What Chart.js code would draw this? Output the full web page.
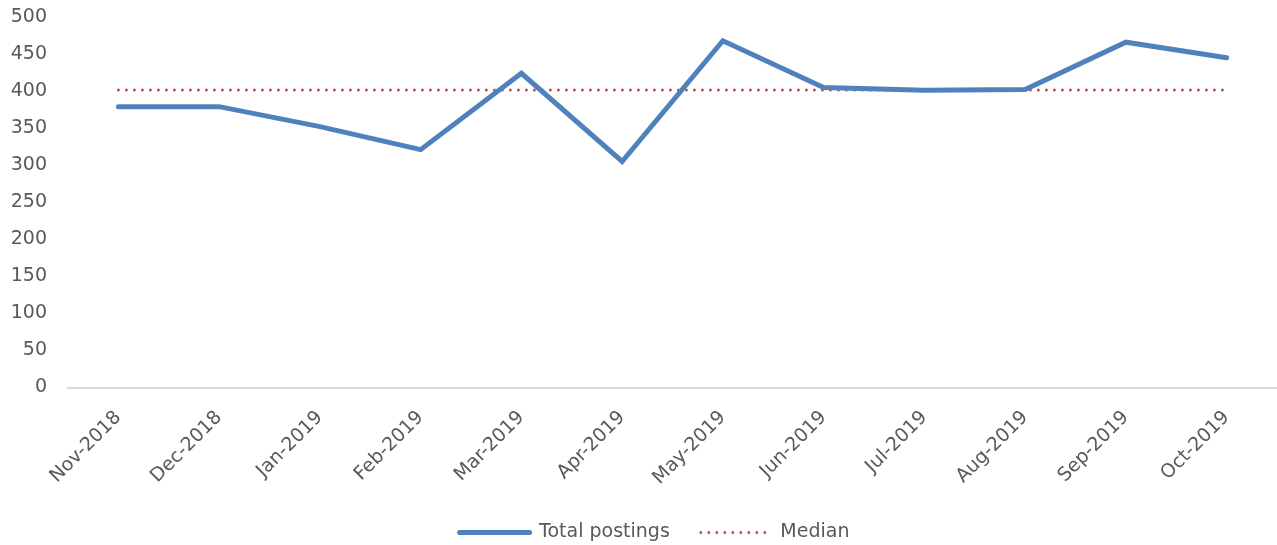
<!DOCTYPE html>
<html>
<head>
<meta charset="utf-8">
<script src="https://cdn.jsdelivr.net/npm/chart.js@4"></script>
<style>
html,body{margin:0;padding:0;background:#fff;}
#wrap{width:1277px;height:545px;}
</style>
</head>
<body>
<div id="wrap"><canvas id="c" width="1277" height="545"></canvas></div>
<script>
const categories = ["Nov-2018","Dec-2018","Jan-2019","Feb-2019","Mar-2019","Apr-2019","May-2019","Jun-2019","Jul-2019","Aug-2019","Sep-2019","Oct-2019"];
const totalPostings = [379,379,352,321,424,305,468,405,401,402,466,445];
const medianValue = 401.5;
const medianSeries = categories.map(() => medianValue);
const yTicks = [0,50,100,150,200,250,300,350,400,450,500];

const FONT = "'DejaVu Sans', sans-serif";
const TXT = '#595959';
const noClip = () => undefined;

new Chart(document.getElementById('c'), {
  type: 'line',
  data: {
    labels: categories,
    datasets: [
      {
        label: 'Total postings',
        data: totalPostings,
        borderColor: '#4f81bd',
        backgroundColor: '#4f81bd',
        borderWidth: 5,
        borderCapStyle: 'round',
        borderJoinStyle: 'miter',
        pointRadius: 0,
        tension: 0,
        fill: false,
        order: 1
      },
      {
        label: 'Median',
        data: medianSeries,
        borderColor: '#c0504d',
        backgroundColor: '#c0504d',
        borderWidth: 3,
        borderDash: [0, 8],
        borderCapStyle: 'round',
        pointRadius: 0,
        fill: false,
        order: 2
      }
    ]
  },
  options: {
    responsive: false,
    animation: false,
    events: [],
    layout: { padding: { top: 17, right: 0, left: 32, bottom: -7 } },
    plugins: {
      tooltip: { enabled: false },
      legend: {
        position: 'bottom',
        labels: {
          usePointStyle: true,
          pointStyle: 'line',
          pointStyleWidth: 70,
          padding: 31,
          color: TXT,
          font: { family: FONT, size: 19 },
          generateLabels: (chart) => chart.data.datasets.map((ds, i) => ({
            text: ds.label,
            fillStyle: ds.borderColor,
            strokeStyle: ds.borderColor,
            lineWidth: ds.borderWidth,
            lineDash: ds.borderDash || [],
            lineCap: 'round',
            pointStyle: 'line',
            rotation: 0,
            hidden: false,
            fontColor: TXT,
            datasetIndex: i
          }))
        }
      }
    },
    scales: {
      x: {
        offset: true,
        grid: { display: false, drawTicks: false },
        border: { display: true, color: '#d9d9d9', width: 2 },
        afterFit: (s) => { s.height = 104.5; s.paddingLeft = 0; s.paddingRight = 0; s._computeLabelArea = noClip; },
        ticks: {
          color: TXT,
          font: { family: FONT, size: 19 },
          maxRotation: 45,
          minRotation: 45,
          padding: 19,
          autoSkip: false
        }
      },
      y: {
        min: 0,
        max: 500,
        grid: { display: false, drawTicks: false },
        border: { display: false },
        afterFit: (s) => { s.width = 36; s.paddingTop = 0; s.paddingBottom = 0; s._computeLabelArea = noClip; },
        afterBuildTicks: (s) => { s.ticks = yTicks.map(v => ({ value: v })); },
        ticks: {
          color: TXT,
          font: { family: FONT, size: 19 },
          padding: 21
        }
      }
    }
  }
});
</script>
</body>
</html>
